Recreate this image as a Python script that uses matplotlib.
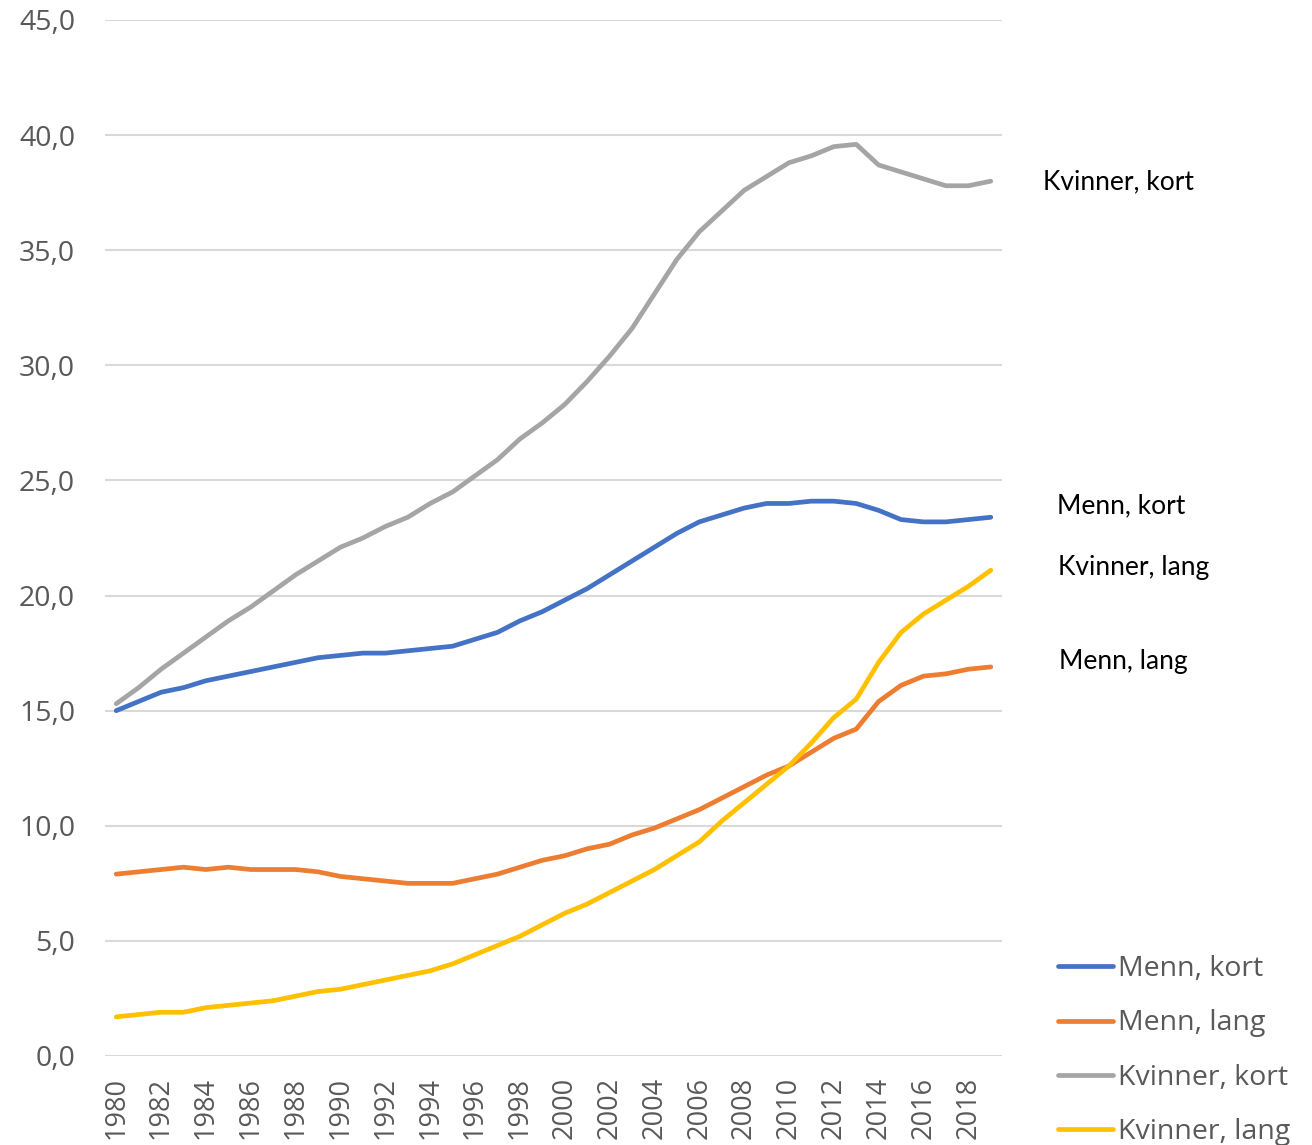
import matplotlib
matplotlib.use("Agg")
import matplotlib.pyplot as plt
from matplotlib.ticker import FuncFormatter, MultipleLocator

years = list(range(1980, 2020))

menn_kort = [15.0, 15.4, 15.8, 16.0, 16.3, 16.5, 16.7, 16.9, 17.1, 17.3,
             17.4, 17.5, 17.5, 17.6, 17.7, 17.8, 18.1, 18.4, 18.9, 19.3,
             19.8, 20.3, 20.9, 21.5, 22.1, 22.7, 23.2, 23.5, 23.8, 24.0,
             24.0, 24.1, 24.1, 24.0, 23.7, 23.3, 23.2, 23.2, 23.3, 23.4]

menn_lang = [7.9, 8.0, 8.1, 8.2, 8.1, 8.2, 8.1, 8.1, 8.1, 8.0,
             7.8, 7.7, 7.6, 7.5, 7.5, 7.5, 7.7, 7.9, 8.2, 8.5,
             8.7, 9.0, 9.2, 9.6, 9.9, 10.3, 10.7, 11.2, 11.7, 12.2,
             12.6, 13.2, 13.8, 14.2, 15.4, 16.1, 16.5, 16.6, 16.8, 16.9]

kvinner_kort = [15.3, 16.0, 16.8, 17.5, 18.2, 18.9, 19.5, 20.2, 20.9, 21.5,
                22.1, 22.5, 23.0, 23.4, 24.0, 24.5, 25.2, 25.9, 26.8, 27.5,
                28.3, 29.3, 30.4, 31.6, 33.1, 34.6, 35.8, 36.7, 37.6, 38.2,
                38.8, 39.1, 39.5, 39.6, 38.7, 38.4, 38.1, 37.8, 37.8, 38.0]

kvinner_lang = [1.7, 1.8, 1.9, 1.9, 2.1, 2.2, 2.3, 2.4, 2.6, 2.8,
                2.9, 3.1, 3.3, 3.5, 3.7, 4.0, 4.4, 4.8, 5.2, 5.7,
                6.2, 6.6, 7.1, 7.6, 8.1, 8.7, 9.3, 10.2, 11.0, 11.8,
                12.6, 13.6, 14.7, 15.5, 17.1, 18.4, 19.2, 19.8, 20.4, 21.1]

series_names = ["Menn, kort", "Menn, lang", "Kvinner, kort", "Kvinner, lang"]
series_values = [menn_kort, menn_lang, kvinner_kort, kvinner_lang]
series_colors = ["#4472C4", "#ED7D31", "#A5A5A5", "#FFC000"]

W, H = 1312, 1145
fig = plt.figure(figsize=(W / 100, H / 100), dpi=100)
ax = fig.add_axes([105 / W, 1 - 1056 / H, (1002 - 105) / W, (1056 - 20) / H])

for name, vals, col in zip(series_names, series_values, series_colors):
    ax.plot(years, vals, color=col, lw=3.4, label=name,
            solid_capstyle="round", solid_joinstyle="round", zorder=3)

ax.set_xlim(1979.5, 2019.5)
ax.set_ylim(0, 45)
ax.yaxis.set_major_locator(MultipleLocator(5))
ax.yaxis.set_major_formatter(FuncFormatter(lambda v, p: f"{v:.1f}".replace(".", ",")))
ax.set_xticks(years[::2])
ax.set_xticklabels([str(y) for y in years[::2]], rotation=90)

ax.grid(axis="y", color="#D9D9D9", lw=1.5, zorder=0)
for s in ax.spines.values():
    s.set_visible(False)
ax.tick_params(axis="both", length=0, labelcolor="#595959")
ax.tick_params(axis="y", pad=21.5, labelsize=20.5)
ax.tick_params(axis="x", pad=15, labelsize=19.5)
for lab in ax.get_xticklabels() + ax.get_yticklabels():
    lab.set_fontfamily("Open Sans")

# End-of-line labels on the right
end_labels = [("Kvinner, kort", 1043, 182), ("Menn, kort", 1057, 506),
              ("Kvinner, lang", 1058, 568), ("Menn, lang", 1059, 661)]
for txt, px, py in end_labels:
    fig.text(px / W, 1 - py / H, txt, fontsize=19, family="Lato",
             color="black", ha="left", va="center")

leg = ax.legend(loc="upper left", bbox_to_anchor=(1058 / W, 1 - 955 / H),
                bbox_transform=fig.transFigure, frameon=False,
                prop={"family": "Open Sans", "size": 20.5},
                handlelength=1.93, handletextpad=0.17, labelspacing=0.93,
                borderaxespad=0, borderpad=0)
for t in leg.get_texts():
    t.set_color("#595959")

fig.savefig("out.png", dpi=100, facecolor="white")
